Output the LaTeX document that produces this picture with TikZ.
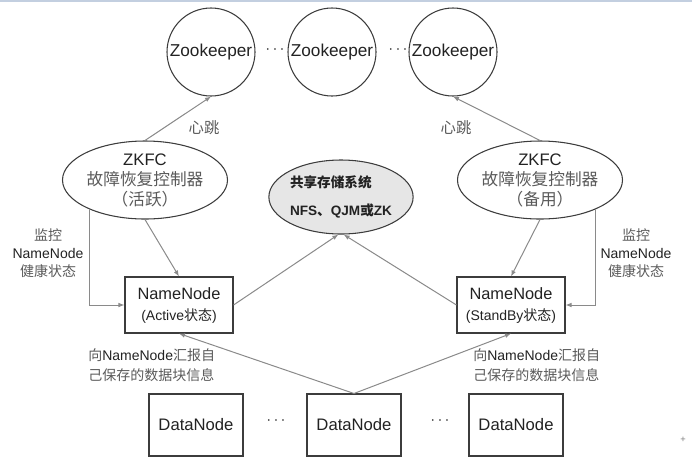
\documentclass[tikz,border=0pt]{standalone}
\usepackage{fontspec}
\setmainfont{Liberation Sans}
\newfontfamily\cjk{Noto Sans CJK SC}
\usetikzlibrary{shapes.geometric,arrows.meta}
\newcommand\zh[1]{{\cjk #1}}
\definecolor{edgegray}{HTML}{8A8A8A}
\definecolor{bordergray}{HTML}{3C3C3C}
\definecolor{txtgray}{HTML}{5A5A5A}
\definecolor{topblue}{HTML}{C3CFE0}
\definecolor{sharedfill}{HTML}{E6E6E6}
\definecolor{txtdark}{HTML}{222222}
\begin{document}
\begin{tikzpicture}[x=0.75pt,y=-0.75pt,
  zkcirc/.style={circle, draw=bordergray, line width=0.8pt, minimum size=66pt, inner sep=0pt,
    text=txtdark, font=\fontsize{12.9}{14}\selectfont},
  zkfc/.style={ellipse, draw=bordergray, line width=0.8pt, minimum width=119pt, minimum height=58.5pt,
    inner sep=0pt, align=center, text=txtdark, font=\fontsize{12.5}{15}\selectfont},
  shared/.style={ellipse, draw=bordergray, line width=0.8pt, fill=sharedfill, minimum width=105pt,
    minimum height=55.5pt, inner sep=0pt, align=left, text=txtdark, font=\fontsize{10.2}{21}\selectfont\bfseries},
  nnbox/.style={rectangle, draw=bordergray, line width=0.8pt, minimum width=81pt, minimum height=42pt,
    inner sep=0pt, align=center, text=txtdark, font=\fontsize{12.3}{15.75}\selectfont},
  dnbox/.style={rectangle, draw=bordergray, line width=0.8pt, minimum width=70.5pt, minimum height=46.5pt,
    inner sep=0pt, text=txtdark, font=\fontsize{12.5}{15}\selectfont},
  lbl/.style={inner sep=0pt, align=center, text=txtgray, font=\fontsize{10.5}{13.5}\selectfont},
  rptlbl/.style={inner sep=0pt, align=left, text=txtgray, font=\fontsize{10.5}{15}\selectfont},
  dots/.style={inner sep=0pt, text=txtdark, font=\fontsize{12}{14}\selectfont},
  conn/.style={draw=edgegray, line width=0.75pt, -{Latex[length=4.5pt,width=3.5pt]}},
  plain/.style={draw=edgegray, line width=0.75pt}
]
\useasboundingbox (0,0) rectangle (692,462);
\draw[topblue, line width=1.5pt] (0,1) -- (692,1);

% Zookeepers
\node[zkcirc] (zk1) at (211,52) {Zookeeper};
\node[zkcirc] (zk2) at (332,52) {Zookeeper};
\node[zkcirc] (zk3) at (453,52) {Zookeeper};
\node[dots] (d1) at (275,50) {$\cdots$};
\node[dots] (d2) at (398,50) {$\cdots$};

% ZKFC
\node[zkfc] (zkfcL) at (145,180) {ZKFC\\\textcolor{txtgray}{\zh{故障恢复控制器}}\\\textcolor{txtgray}{\zh{（活跃）}}};
\node[zkfc] (zkfcR) at (540,180) {ZKFC\\\textcolor{txtgray}{\zh{故障恢复控制器}}\\\textcolor{txtgray}{\zh{（备用）}}};

% shared storage
\node[shared] (store) at (341,197) {\zh{\bfseries 共享存储系统}\\NFS\zh{\bfseries 、}QJM\zh{\bfseries 或}ZK};

% NameNodes
\node[nnbox] (nnL) at (179,305) {NameNode\\{\fontsize{10.5}{12}\selectfont (Active\zh{状态})}};
\node[nnbox] (nnR) at (511,305) {NameNode\\{\fontsize{10.5}{12}\selectfont (StandBy\zh{状态})}};

% DataNodes
\node[dnbox] (dn1) at (196,425) {DataNode};
\node[dnbox] (dn2) at (354,425) {DataNode};
\node[dnbox] (dn3) at (516,425) {DataNode};
\node[dots] (d3) at (276,421) {$\cdots$};
\node[dots] (d4) at (440,421) {$\cdots$};

% labels
\node[lbl, font=\fontsize{11.5}{13}\selectfont] (hbL) at (204,128) {\zh{心跳}};
\node[lbl, font=\fontsize{11.5}{13}\selectfont] (hbR) at (456,128) {\zh{心跳}};
\node[lbl] (monL) at (48,253) {\zh{监控}\\\textcolor{txtdark}{NameNode}\\\zh{健康状态}};
\node[lbl] (monR) at (636,253) {\zh{监控}\\\textcolor{txtdark}{NameNode}\\\zh{健康状态}};
\node[rptlbl, anchor=west] (rptL) at (88,365) {\zh{向}\textcolor{txtdark}{NameNode}\zh{汇报自}\\\zh{己保存的数据块信息}};
\node[rptlbl, anchor=west] (rptR) at (473,365) {\zh{向}\textcolor{txtdark}{NameNode}\zh{汇报自}\\\zh{己保存的数据块信息}};

% connectors
\draw[conn] (zkfcL.north) -- (zk1.south);
\draw[conn] (zkfcR.north) -- (zk3.south);
\draw[conn] (zkfcL.south) -- (nnL.north);
\draw[conn] (zkfcR.south) -- (nnR.north);
\draw[conn] (zkfcL.208) |- (nnL.west);
\draw[conn] (zkfcR.332) |- (nnR.east);
\draw[conn] (nnL.east) -- (store.266);
\draw[conn] (nnR.west) -- (store.274);
\draw[conn] (dn2.north) -- (nnL.south);
\draw[conn] (dn2.north) -- (nnR.south);

\node[inner sep=0pt, text=gray, font=\fontsize{7}{8}\selectfont] (plus) at (683,440) {+};
\end{tikzpicture}
\end{document}
